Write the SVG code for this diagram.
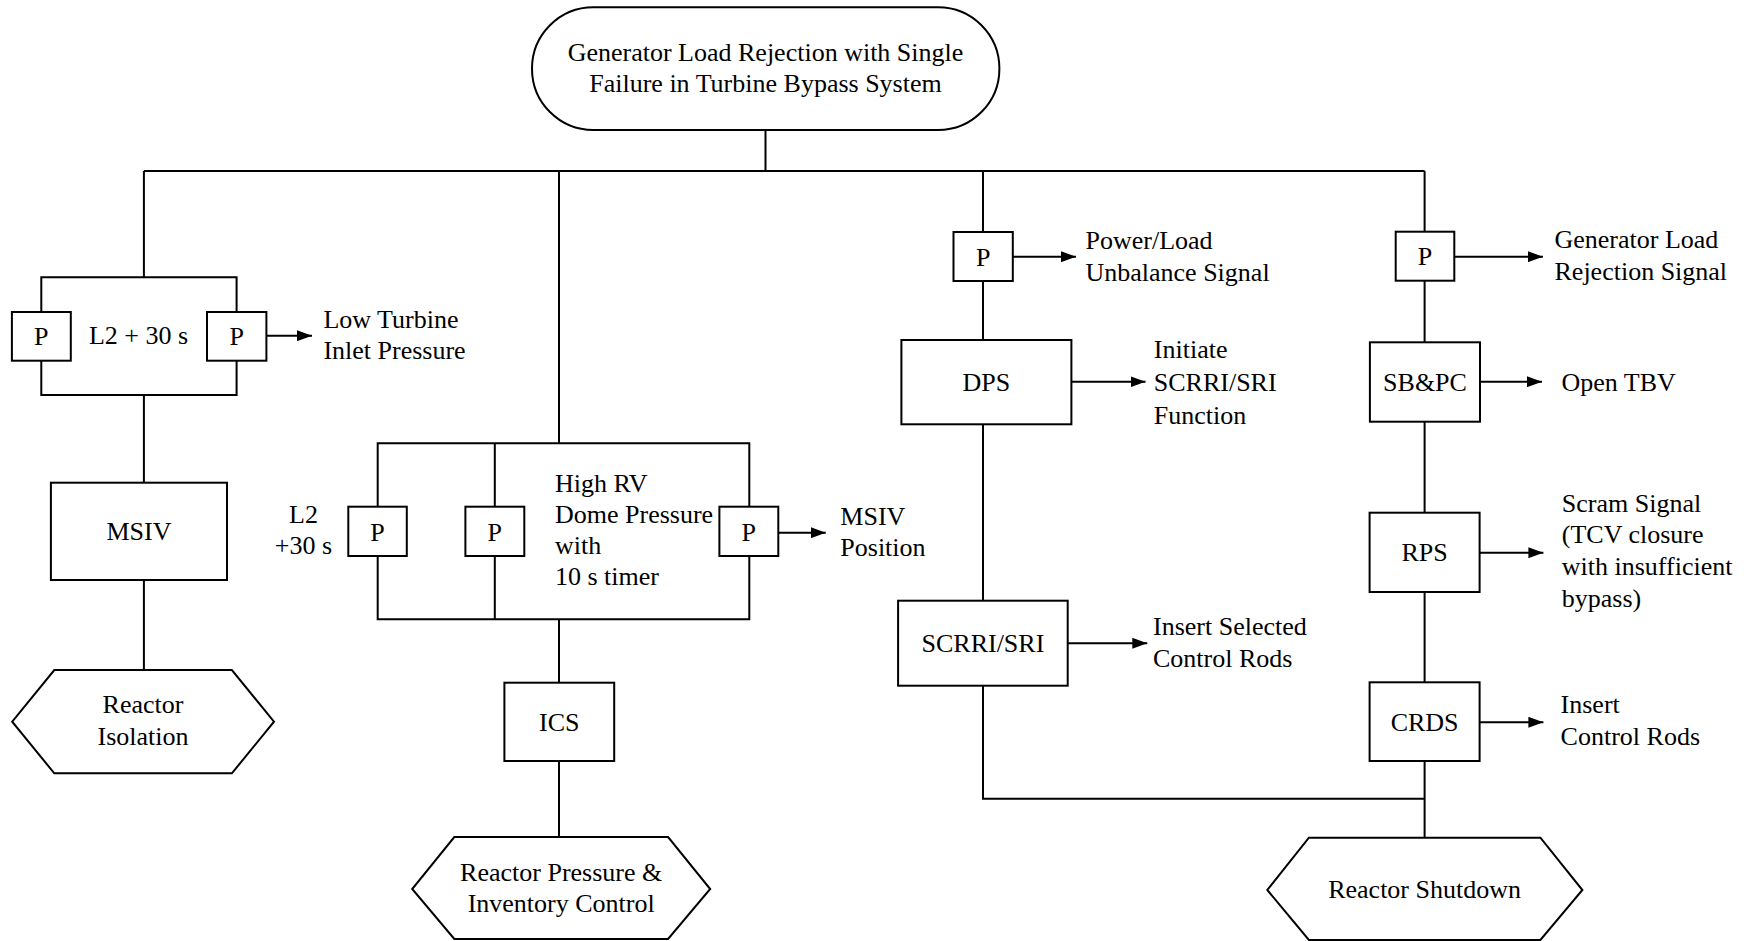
<svg xmlns="http://www.w3.org/2000/svg" width="1749" height="941" viewBox="0 0 1749 941">
<defs>
<marker id="arr" markerUnits="userSpaceOnUse" markerWidth="16" markerHeight="11" refX="15" refY="5.5" orient="auto">
<path d="M0,0 L15,5.5 L0,11 z" fill="#000"/>
</marker>
<style>
text{font-family:"Liberation Serif","Times New Roman",serif;font-size:26px;fill:#000}
.c{text-anchor:middle}
.box{fill:#fff;stroke:#000;stroke-width:2}
.ln{fill:none;stroke:#000;stroke-width:2}
.ar{fill:none;stroke:#000;stroke-width:2;marker-end:url(#arr)}
</style>
</defs>
<rect width="1749" height="941" fill="#fff"/>
<g id="connectors">
<path class="ln" d="M765.5,130 V171 M143.9,171 H1424.6"/>
<path class="ln" d="M143.9,171 V277.3 M41.3,312 V277.3 H236.6 V312 M41.3,361 V395 H236.6 V361 M143.9,395 V482.7 M143.9,580 V670"/>
<path class="ln" d="M559,171 V443.3 M377.7,506.7 V443.3 H749.3 V506.7 M494.8,443.3 V506.7 M377.7,556 V619.3 H749.3 V556 M494.8,556 V619.3 M559,619.3 V682.7 M559,761 V837"/>
<path class="ln" d="M983,171 V232 M983,281 V340 M983,424.3 V600.7 M983,685.7 V798.7 H1424.6"/>
<path class="ln" d="M1424.6,171 V231.7 M1424.6,280.7 V342.3 M1424.6,421.7 V512.7 M1424.6,592 V682.3 M1424.6,761 V837.7"/>
<line class="ar" x1="266.4" y1="335.7" x2="312" y2="335.7"/>
<line class="ar" x1="778.3" y1="532.7" x2="825.8" y2="532.7"/>
<line class="ar" x1="1012.8" y1="256.7" x2="1076" y2="256.7"/>
<line class="ar" x1="1071.4" y1="381.7" x2="1145.5" y2="381.7"/>
<line class="ar" x1="1067.7" y1="643.3" x2="1147.3" y2="643.3"/>
<line class="ar" x1="1454.3" y1="256.7" x2="1542.9" y2="256.7"/>
<line class="ar" x1="1480" y1="381.7" x2="1542" y2="381.7"/>
<line class="ar" x1="1479.6" y1="552.7" x2="1543.4" y2="552.7"/>
<line class="ar" x1="1479.6" y1="722.3" x2="1543.4" y2="722.3"/>
</g>
<g id="start">
<rect class="box" x="532" y="7.3" width="467.4" height="122.7" rx="61.35" ry="61.35"/>
<text class="c" x="765.5" y="61">Generator Load Rejection with Single</text>
<text class="c" x="765.5" y="92">Failure in Turbine Bypass System</text>
</g>
<g id="p-left1"><rect class="box" x="11.9" y="312" width="58.9" height="48.7"/><text class="c" x="41.3" y="345">P</text></g>
<g id="label-l2-30s-left"><text class="c" x="138.5" y="344">L2 + 30 s</text></g>
<g id="p-left2"><rect class="box" x="207" y="312" width="59.4" height="48.7"/><text class="c" x="236.7" y="345">P</text></g>
<g id="label-low-turbine"><text x="323.4" y="328">Low Turbine</text><text x="323.4" y="359">Inlet Pressure</text></g>
<g id="msiv"><rect class="box" x="50.9" y="482.7" width="176.1" height="97.3"/><text class="c" x="139" y="540">MSIV</text></g>
<g id="reactor-isolation">
<polygon class="box" points="54.3,670 231.9,670 274,721.7 231.9,773.3 54.3,773.3 12.2,721.7"/>
<text class="c" x="143" y="713">Reactor</text><text class="c" x="143" y="745">Isolation</text>
</g>
<g id="label-l2-30s-mid"><text class="c" x="303.5" y="523.3">L2</text><text class="c" x="303.5" y="554.3">+30 s</text></g>
<g id="p-mid1"><rect class="box" x="348.3" y="506.7" width="58.5" height="49.3"/><text class="c" x="377.5" y="540.5">P</text></g>
<g id="p-mid2"><rect class="box" x="465.4" y="506.7" width="58.9" height="49.3"/><text class="c" x="494.8" y="540.5">P</text></g>
<g id="label-high-rv"><text x="555" y="492.3">High RV</text><text x="555" y="523.3">Dome Pressure</text><text x="555" y="554.3">with</text><text x="555" y="585.3">10 s timer</text></g>
<g id="p-mid3"><rect class="box" x="719.4" y="506.7" width="58.9" height="49.3"/><text class="c" x="748.8" y="540.5">P</text></g>
<g id="label-msiv-position"><text x="840.3" y="525">MSIV</text><text x="840.3" y="556">Position</text></g>
<g id="ics"><rect class="box" x="504.4" y="682.7" width="109.8" height="78.3"/><text class="c" x="559.3" y="730.5">ICS</text></g>
<g id="reactor-pressure">
<polygon class="box" points="454.3,837 668.1,837 710.2,889 668.1,939 454.3,939 412.2,889"/>
<text class="c" x="561.2" y="880.7">Reactor Pressure &amp;</text><text class="c" x="561.2" y="912.3">Inventory Control</text>
</g>
<g id="p-dps"><rect class="box" x="953.5" y="232" width="59.3" height="49"/><text class="c" x="983.2" y="265.5">P</text></g>
<g id="label-power-load"><text x="1085.5" y="248.5">Power/Load</text><text x="1085.5" y="280.5">Unbalance Signal</text></g>
<g id="dps"><rect class="box" x="901.4" y="340" width="170" height="84.3"/><text class="c" x="986.4" y="391">DPS</text></g>
<g id="label-initiate"><text x="1153.8" y="357.5">Initiate</text><text x="1153.8" y="390.5">SCRRI/SRI</text><text x="1153.8" y="423.5">Function</text></g>
<g id="scrri"><rect class="box" x="898.1" y="600.7" width="169.6" height="85"/><text class="c" x="982.9" y="652">SCRRI/SRI</text></g>
<g id="label-insert-selected"><text x="1153" y="635">Insert Selected</text><text x="1153" y="666.7">Control Rods</text></g>
<g id="p-right"><rect class="box" x="1395.7" y="231.7" width="58.6" height="49"/><text class="c" x="1425" y="265">P</text></g>
<g id="label-gen-load"><text x="1554.5" y="248.3">Generator Load</text><text x="1554.5" y="280">Rejection Signal</text></g>
<g id="sbpc"><rect class="box" x="1369.9" y="342.3" width="110.1" height="79.4"/><text class="c" x="1425" y="391">SB&amp;PC</text></g>
<g id="label-open-tbv"><text x="1561.5" y="391">Open TBV</text></g>
<g id="rps"><rect class="box" x="1369.6" y="512.7" width="110" height="79.3"/><text class="c" x="1424.6" y="561">RPS</text></g>
<g id="label-scram"><text x="1561.8" y="511.7">Scram Signal</text><text x="1561.8" y="543.3">(TCV closure</text><text x="1561.8" y="575">with insufficient</text><text x="1561.8" y="606.7">bypass)</text></g>
<g id="crds"><rect class="box" x="1369.6" y="682.3" width="110" height="78.7"/><text class="c" x="1424.6" y="730.5">CRDS</text></g>
<g id="label-insert"><text x="1560.6" y="713.3">Insert</text><text x="1560.6" y="745">Control Rods</text></g>
<g id="reactor-shutdown">
<polygon class="box" points="1308.9,837.7 1540.4,837.7 1582.4,890 1540.4,940 1308.9,940 1267.3,890"/>
<text class="c" x="1424.6" y="898">Reactor Shutdown</text>
</g>
</svg>
